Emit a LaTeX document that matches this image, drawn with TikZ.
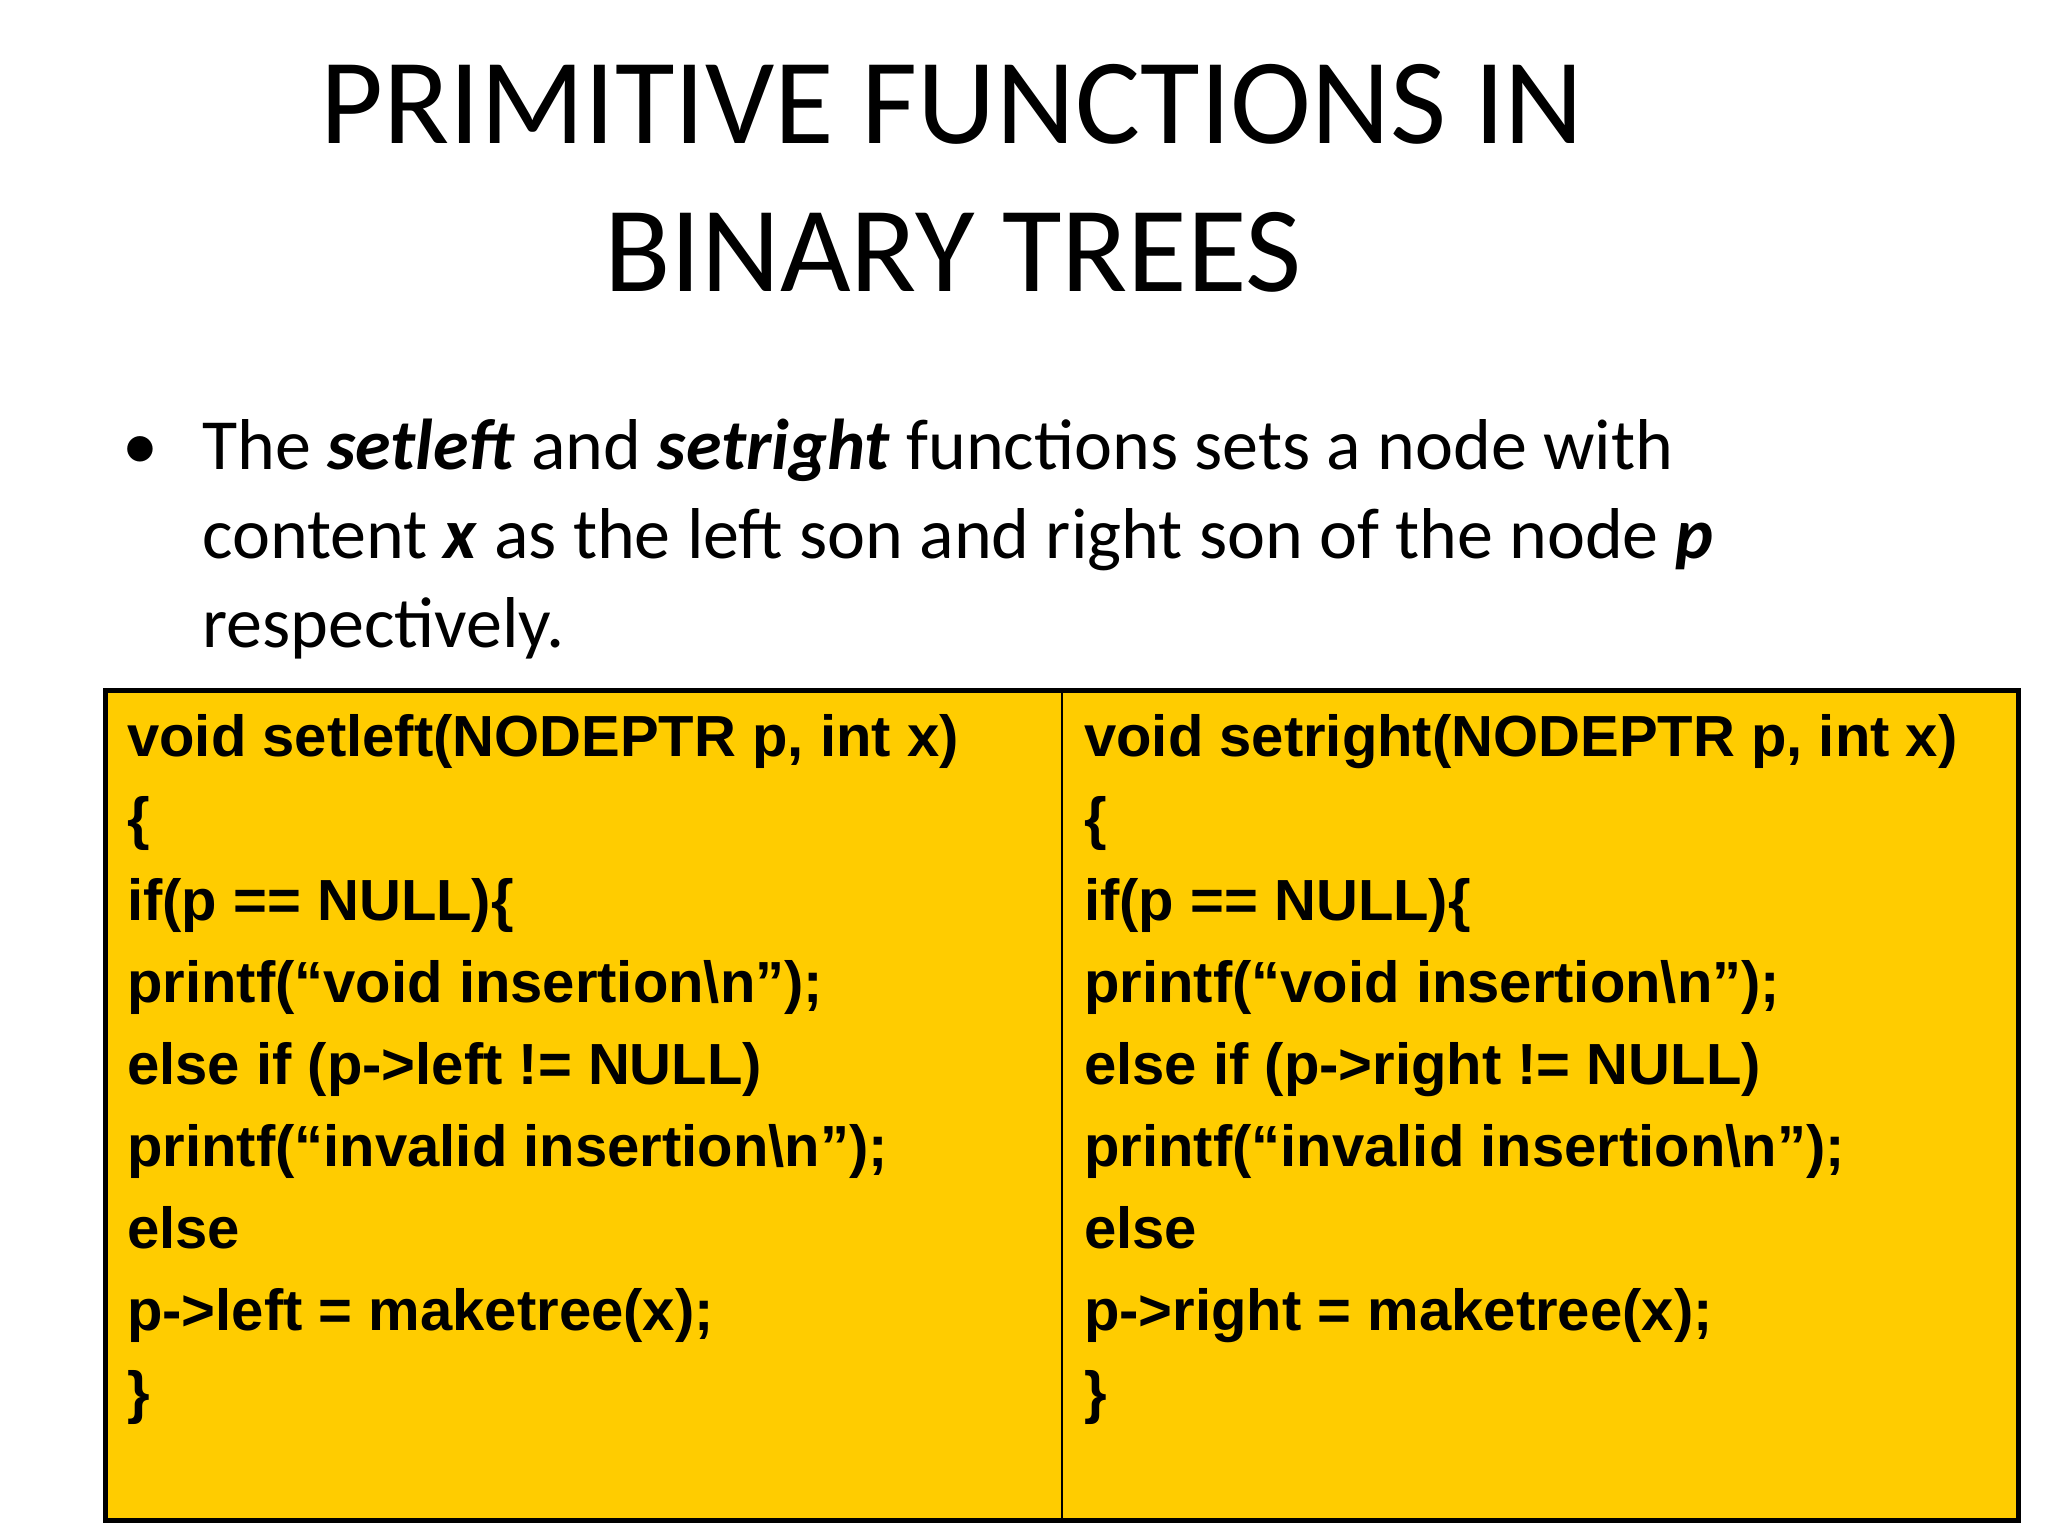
\documentclass[tikz,border=0pt]{standalone}
\usepackage{fontspec}
\setmainfont{Carlito}
\newfontfamily\codefont{Liberation Sans}
\definecolor{boxfill}{HTML}{FFCC00}
\begin{document}
\begin{tikzpicture}[x=1pt,y=-1pt,
  title/.style={anchor=base,inner sep=0pt,font=\fontsize{122}{140}\selectfont},
  body/.style={anchor=base west,inner sep=0pt,font=\fontsize{72}{89}\selectfont},
  code/.style={anchor=base west,inner sep=0pt,font=\codefont\bfseries\fontsize{58}{82}\selectfont}]
\useasboundingbox[fill=white] (0,0) rectangle (2048,1536);
\node[title] (t1) at (952,143) {PRIMITIVE FUNCTIONS IN};
\node[title] (t2) at (953,291) {BINARY TREES};
\node[body] (bul) at (122,469) {•};
\node[body] (l1) at (202,469) {The \textbf{\textit{setleft}} and \textbf{\textit{setright}} functions sets a node with};
\node[body] (l2) at (202,558) {content \textbf{\textit{x}} as the left son and right son of the node \textbf{\textit{p}}};
\node[body] (l3) at (202,647) {respectively.};
\draw[line width=5pt,fill=boxfill] (105,690) rectangle (2018,1520);
\draw[line width=2.5pt] (1062,690) -- (1062,1520);
\foreach \c/\x/\w in {L/127/left,R/1084/right}{
  \node[code] (\c1) at (\x,756) {void set\w(NODEPTR p, int x)};
  \node[code] (\c2) at (\x,838) {\{};
  \node[code] (\c3) at (\x,920) {if(p == NULL)\{};
  \node[code] (\c4) at (\x,1002) {printf(“void insertion\textbackslash n”);};
  \node[code] (\c5) at (\x,1084) {else if (p->\w\ != NULL)};
  \node[code] (\c6) at (\x,1166) {printf(“invalid insertion\textbackslash n”);};
  \node[code] (\c7) at (\x,1248) {else};
  \node[code] (\c8) at (\x,1330) {p->\w\ = maketree(x);};
  \node[code] (\c9) at (\x,1412) {\}};
}
\end{tikzpicture}
\end{document}
